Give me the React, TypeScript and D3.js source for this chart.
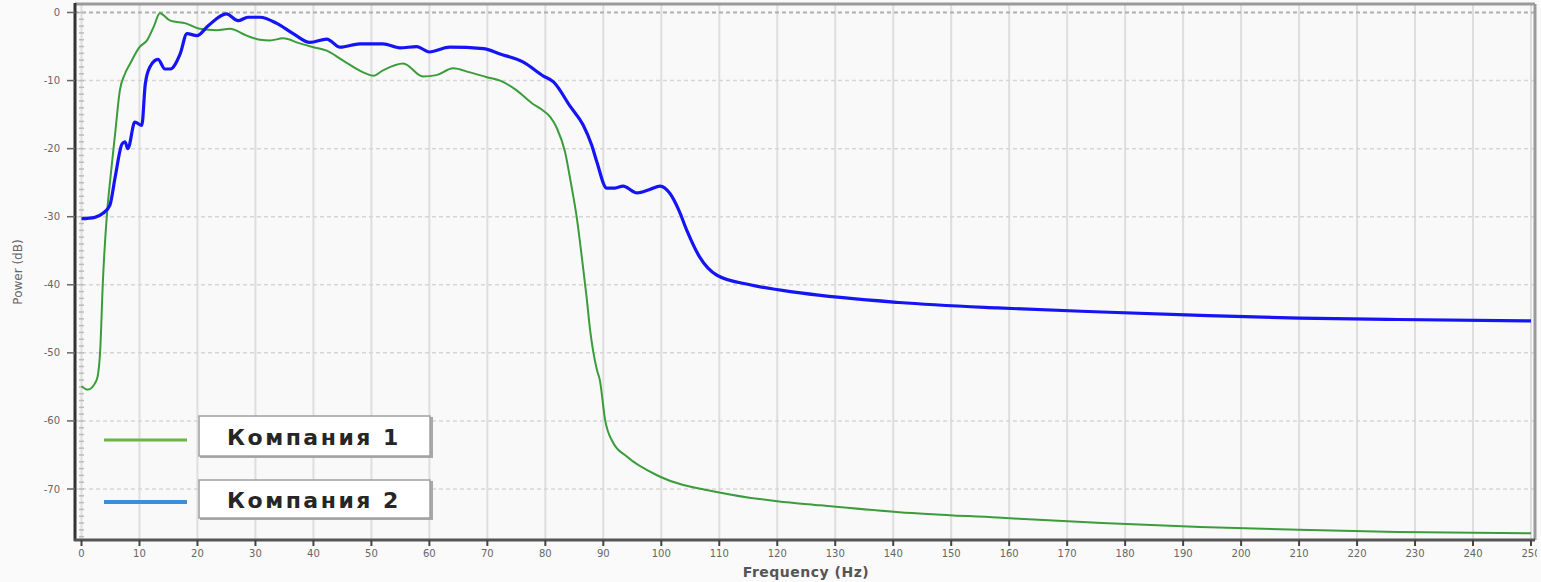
import React from 'react';
import * as d3 from 'd3';

// Компания 1 (green)
const freq1 = [0, 1.1, 2.6, 3.2, 3.7, 4.4, 4.9, 5.8, 6.6, 7.5, 8.4, 10, 11.3, 12.5, 13.5, 15.3, 18, 20.4, 23.3, 25.6, 28.5, 30.8, 32.5, 34.8, 37.5, 40, 42.3, 45, 48.6, 50.3, 52, 55.5, 58.9, 61.2, 64.1, 67, 69.9, 72.2, 75, 77.8, 79.6, 80.8, 82, 83.4, 84.4, 85.4, 86.3, 87.1, 87.7, 88.9, 89.4, 90.3, 91.7, 94, 99.8, 110, 120, 127.4, 141, 158, 176, 193, 210, 227, 250];
const power1 = [-54.9, -55.4, -54, -50, -39.3, -29.5, -25, -17.8, -11.5, -9, -7.5, -5.1, -4.1, -2, -0.1, -1.2, -1.6, -2.4, -2.6, -2.4, -3.4, -4, -4.1, -3.8, -4.5, -5.1, -5.6, -7, -8.8, -9.3, -8.5, -7.5, -9.4, -9.2, -8.2, -8.8, -9.5, -10, -11.4, -13.4, -14.4, -15.3, -17, -20.5, -25, -30, -36, -41.7, -46.5, -52.5, -54, -59.8, -63.2, -65.2, -68.2, -70.5, -71.8, -72.4, -73.4, -74.2, -75, -75.6, -76, -76.3, -76.5];

// Компания 2 (blue)
const freq2 = [0, 2.3, 3.7, 4.9, 5.8, 7, 7.5, 8, 9.2, 10.4, 11, 11.8, 13.2, 14.4, 15.3, 17, 18.2, 19.9, 21.9, 25, 27, 28.7, 30.8, 33.7, 36.5, 39.4, 42.3, 44.6, 48, 52, 54.9, 57.8, 60, 63.5, 69.3, 72.2, 76.2, 79.6, 81.4, 84.3, 86.5, 88, 88.9, 90.6, 92, 93.4, 95.8, 98, 99.8, 101.5, 103, 104.4, 106.6, 109.6, 115.3, 124, 141, 158, 176, 193, 210, 227, 250];
const power2 = [-30.3, -30.1, -29.5, -28.3, -24.2, -19.3, -19, -20, -16.1, -16.6, -10.5, -8, -6.9, -8.3, -8.3, -6.1, -3.1, -3.4, -1.9, -0.2, -1.2, -0.7, -0.7, -1.6, -3.1, -4.4, -3.9, -5.1, -4.6, -4.6, -5.2, -5, -5.8, -5.1, -5.3, -6.1, -7.3, -9.3, -10.2, -13.8, -16.5, -19.5, -22, -25.8, -25.8, -25.5, -26.5, -26, -25.5, -26.6, -29, -32, -35.9, -38.6, -40, -41.2, -42.6, -43.4, -44, -44.5, -44.9, -45.1, -45.3];

const xTicks = d3.range(0, 251, 10);
const yTicks = [0, -10, -20, -30, -40, -50, -60, -70];
const seriesNames = ['Компания 1', 'Компания 2'];

const W = 1541;
const H = 582;
const left = 75, right = 1535, top = 4, bottom = 540;

export default function App() {
  const x = d3.scaleLinear().domain([0, 250]).range([81.5, 1531]);
  const y = d3.scaleLinear().domain([0, -70]).range([12.5, 489]);

  const line = d3.line<[number, number]>()
    .x(d => x(d[0]))
    .y(d => y(d[1]))
    .curve(d3.curveMonotoneX);

  const pts1 = freq1.map((f, i) => [f, power1[i]] as [number, number]);
  const pts2 = freq2.map((f, i) => [f, power2[i]] as [number, number]);

  const minor = d3.range(0, -78, -1);

  return (
    <svg width={W} height={H} style={{ position: 'absolute', left: 0, top: 0, background: '#fafafa' }}
      fontFamily="'DejaVu Sans', sans-serif">
      <defs>
        <clipPath id="plot">
          <rect x={left} y={top} width={right - left} height={bottom - top} />
        </clipPath>
        <clipPath id="xlab">
          <rect x={0} y={540} width={1537} height={30} />
        </clipPath>
      </defs>
      <rect x={0} y={0} width={W} height={H} fill="#fafafa" />
      <rect x={left} y={top} width={right - left} height={bottom - top} fill="#f9f9f9" />

      {/* vertical grid */}
      {xTicks.map(t => (
        <line key={'vx' + t} x1={x(t)} x2={x(t)} y1={top} y2={bottom} stroke="#dedede" strokeWidth={2} />
      ))}
      {/* horizontal grid */}
      {yTicks.map(t => (
        <line key={'hy' + t} x1={left} x2={right} y1={y(t)} y2={y(t)}
          stroke={t === 0 ? '#b0b0b0' : '#d6d6d6'} strokeWidth={t === 0 ? 2 : 1.5} strokeDasharray="4 3" />
      ))}
      {/* minor ticks on left */}
      {minor.map(m => (
        <line key={'mn' + m} x1={79} x2={84} y1={y(m)} y2={y(m)} stroke="#bbb" strokeWidth={1.5} />
      ))}

      {/* frame */}
      <line x1={left} x2={right} y1={top} y2={top} stroke="#9a9a9a" strokeWidth={3} />
      <line x1={right} x2={right} y1={top} y2={bottom} stroke="#9a9a9a" strokeWidth={3} />
      <line x1={left} x2={left} y1={top - 1} y2={bottom + 1} stroke="#333" strokeWidth={3} />
      <line x1={left - 1} x2={right} y1={bottom} y2={bottom} stroke="#555" strokeWidth={3} />

      {/* curves */}
      <g clipPath="url(#plot)">
        <path d={line(pts1) || ''} fill="none" stroke="#3a9c3a" strokeWidth={2} />
        <path d={line(pts2) || ''} fill="none" stroke="#1414f5" strokeWidth={3.2} strokeLinejoin="round" />
      </g>

      {/* y axis ticks */}
      {yTicks.map(t => (
        <g key={'yt' + t}>
          <line x1={67} x2={left} y1={y(t)} y2={y(t)} stroke="#666" strokeWidth={1.5} />
          <text x={60} y={y(t)} dy="0.35em" textAnchor="end" fontSize={10} fill="#666">{t}</text>
        </g>
      ))}
      {/* x axis ticks */}
      <g clipPath="url(#xlab)">
        {xTicks.map(t => (
          <g key={'xt' + t}>
            <line x1={x(t)} x2={x(t)} y1={bottom} y2={546} stroke="#444" strokeWidth={2} />
            <text x={x(t)} y={557} textAnchor="middle" fontSize={10} fill="#666">{t}</text>
          </g>
        ))}
      </g>

      <text transform="translate(22,272) rotate(-90)" textAnchor="middle" fontSize={12} fill="#666">Power (dB)</text>
      <text x={806} y={577} textAnchor="middle" fontSize={14} fontWeight="bold" letterSpacing={0.5} fill="#555">Frequency (Hz)</text>

      {/* legend */}
      {seriesNames.map((name, i) => {
        const by = i === 0 ? 417 : 481;
        const bh = i === 0 ? 41 : 39;
        const ly = i === 0 ? 440 : 502;
        return (
          <g key={name}>
            <line x1={104} x2={187} y1={ly} y2={ly} stroke={i === 0 ? '#6cb444' : '#3b8edb'} strokeWidth={i === 0 ? 3 : 4} />
            <rect x={200} y={by} width={233} height={bh} fill="#a8a8a8" />
            <rect x={199} y={by - 1} width={231} height={bh - 1} fill="#fff" stroke="#a0a0a0" strokeWidth={1.5} />
            <text x={314} y={by + bh / 2} dy="0.36em" textAnchor="middle" fontSize={22} fontWeight="bold"
              letterSpacing={2.5} fill="#262626">{name}</text>
          </g>
        );
      })}
    </svg>
  );
}
